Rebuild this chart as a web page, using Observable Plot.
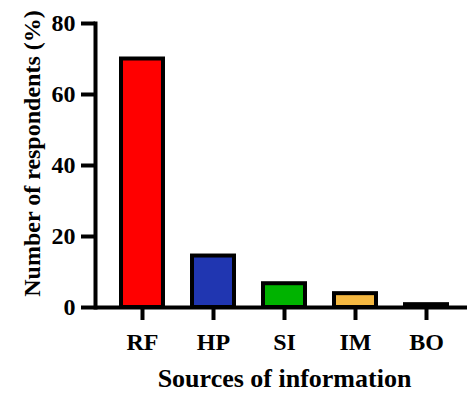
<!DOCTYPE html>
<html>
<head>
<meta charset="utf-8">
<script src="https://cdn.jsdelivr.net/npm/d3@7"></script>
<script src="https://cdn.jsdelivr.net/npm/@observablehq/plot@0.6"></script>
<style>
  html, body { margin: 0; padding: 0; background: #fff; }
  svg { display: block; }
  #chart svg, #chart svg text { font-family: "Liberation Serif", "Times New Roman", "DejaVu Serif", serif !important; font-weight: bold; }
</style>
</head>
<body>
<div id="chart"></div>
<script>
const categories = ["RF", "HP", "SI", "IM", "BO"];
const values = [70, 14.5, 6.7, 3.9, 0.8];
const colors = ["#ff0000", "#2036b1", "#00b300", "#f5b841", "#222222"];
const yTicks = [0, 20, 40, 60, 80];
const xTitle = "Sources of information";
const yTitle = "Number of respondents (%)";

const data = categories.map((c, i) => ({source: c, value: values[i], color: colors[i]}));
const font = "Liberation Serif";

const chart = Plot.plot({
  width: 468,
  height: 395,
  marginLeft: 95,
  marginRight: 1,
  marginTop: 23,
  marginBottom: 88,
  style: {fontFamily: font, fontWeight: "bold", background: "#fff", color: "#000"},
  x: {domain: categories, paddingInner: 0.41, paddingOuter: 0.324, align: 0.565, label: null},
  y: {domain: [0, 80], label: null},
  marks: [
    Plot.barY(data, {x: "source", y: "value", fill: "color", stroke: "#000", strokeWidth: 4, inset: 0}),
    Plot.ruleY([0], {stroke: "#000", strokeWidth: 4}),
    Plot.frame({anchor: "left", stroke: "#000", strokeWidth: 4}),
    Plot.axisY({ticks: yTicks, tickSize: 14, tickPadding: 6, strokeWidth: 4, fontSize: 24, fontWeight: "bold", fontFamily: font, label: null}),
    Plot.axisX({tickSize: 13, tickPadding: 12, strokeWidth: 4, fontSize: 24, fontWeight: "bold", fontFamily: font, label: null}),
    Plot.text([xTitle], {frameAnchor: "bottom", lineAnchor: "bottom", dy: 79, dx: 3, fontSize: 26, fontWeight: "bold", fontFamily: font}),
    Plot.text([yTitle], {frameAnchor: "left", rotate: -90, lineAnchor: "middle", textAnchor: "middle", dx: -63.5, dy: -12, fontSize: 24, fontWeight: "bold", fontFamily: font})
  ]
});
document.getElementById("chart").appendChild(chart);
</script>
</body>
</html>
